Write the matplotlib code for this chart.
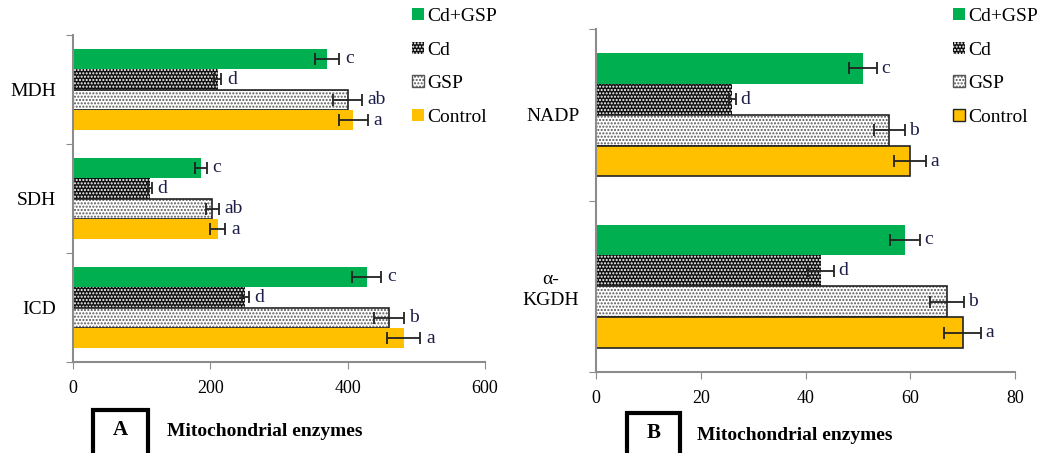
import numpy as np
import matplotlib.pyplot as plt
from matplotlib.patches import Patch, Rectangle

plt.rcParams['font.family'] = ['Liberation Serif', 'DejaVu Serif']
plt.rcParams['hatch.linewidth'] = 1.0

series = ['Cd+GSP', 'Cd', 'GSP', 'Control']

cats_a = ['ICD', 'SDH', 'MDH']
vals_a = {
    'Cd+GSP': [428, 186, 370],
    'Cd': [251, 112, 211],
    'GSP': [460, 203, 400],
    'Control': [482, 211, 408],
}
errs_a = {
    'Cd+GSP': [21, 9, 18],
    'Cd': [5, 3, 5],
    'GSP': [22, 10, 21],
    'Control': [24, 11, 21],
}
letters_a = {
    'Cd+GSP': ['c', 'c', 'c'],
    'Cd': ['d', 'd', 'd'],
    'GSP': ['b', 'ab', 'ab'],
    'Control': ['a', 'a', 'a'],
}

cats_b = ['\u03b1-\nKGDH', 'NADP']
vals_b = {
    'Cd+GSP': [59, 51],
    'Cd': [43, 26],
    'GSP': [67, 56],
    'Control': [70, 60],
}
errs_b = {
    'Cd+GSP': [2.9, 2.6],
    'Cd': [2.5, 0.7],
    'GSP': [3.3, 3.0],
    'Control': [3.6, 3.1],
}
letters_b = {
    'Cd+GSP': ['c', 'c'],
    'Cd': ['d', 'd'],
    'GSP': ['b', 'b'],
    'Control': ['a', 'a'],
}

GREEN = '#00b050'
GOLD = '#ffc000'
AXC = '#8c8c8c'
LETC = '#1c1c48'


def draw_panel(ax, cats, vals, errs, letters, xmax, xticks, h, ctrl_edge, off):
    n = len(cats)
    ypos = np.arange(n) + 0.5
    offsets = [1.5 * h, 0.5 * h, -0.5 * h, -1.5 * h]
    for s, o in zip(series, offsets):
        y = ypos + o
        v = vals[s]
        if s == 'Cd+GSP':
            ax.barh(y, v, height=h, color=GREEN, lw=0)
        elif s == 'Cd':
            ax.barh(y, v, height=h, color='#111111', hatch='.....', edgecolor='white', lw=0)
        elif s == 'GSP':
            ax.barh(y, v, height=h, color='white', hatch='.....', edgecolor='#555555', lw=0)
            ax.barh(y, v, height=h, fill=False, edgecolor='#222222', lw=1.2)
        else:
            ax.barh(y, v, height=h, color=GOLD, edgecolor='#222222' if ctrl_edge else GOLD,
                    lw=1.2 if ctrl_edge else 0)
        ax.errorbar(v, y, xerr=errs[s], fmt='none', ecolor='#222222', elinewidth=1.3,
                    capsize=4, capthick=1.3)
        for vi, ei, yi, lt in zip(v, errs[s], y, letters[s]):
            ax.text(vi + ei + off, yi, lt, va='center', ha='left', fontsize=14, color=LETC)
    ax.set_xlim(0, xmax)
    ax.set_ylim(0, n)
    ax.set_xticks(xticks)
    ax.set_yticks(np.arange(n + 1))
    ax.set_yticklabels([])
    ax.set_yticks(ypos, minor=True)
    ax.set_yticklabels(cats, minor=True, fontsize=14, linespacing=1.3)
    for t in ax.get_yticklabels(minor=True):
        t.set_multialignment('center')
    ax.tick_params(axis='y', which='minor', length=0, pad=12)
    ax.tick_params(axis='y', which='major', length=5, color=AXC)
    ax.tick_params(axis='x', length=5, color=AXC, labelsize=13, pad=8)
    for sp in ['top', 'right']:
        ax.spines[sp].set_visible(False)
    for sp in ['left', 'bottom']:
        ax.spines[sp].set_color(AXC)
        ax.spines[sp].set_linewidth(1.5)


W, H = 1037, 453
fig = plt.figure(figsize=(W / 100, H / 100), dpi=100)

ax_a = fig.add_axes([73 / W, (H - 362) / H, 412 / W, 327 / H])
draw_panel(ax_a, cats_a, vals_a, errs_a, letters_a, 600, [0, 200, 400, 600], 0.187, False, 8)

ax_b = fig.add_axes([596 / W, (H - 372) / H, 419 / W, 343 / H])
draw_panel(ax_b, cats_b, vals_b, errs_b, letters_b, 80, [0, 20, 40, 60, 80], 0.18, True, 0.8)


def legend_handles(ctrl_edge):
    return [
        Patch(facecolor=GREEN, lw=0, label='Cd+GSP'),
        Patch(facecolor='#111111', hatch='.....', edgecolor='white', lw=0, label='Cd'),
        Patch(facecolor='white', hatch='.....', edgecolor='#555555', lw=1, label='GSP'),
        Patch(facecolor=GOLD, edgecolor='#222222' if ctrl_edge else GOLD,
              lw=1 if ctrl_edge else 0, label='Control'),
    ]


for hx, ce in [(412, False), (953, True)]:
    fig.legend(handles=legend_handles(ce), loc='upper left', bbox_to_anchor=(hx / W, 1 - 8 / H),
               frameon=False, fontsize=14, handlelength=0.6, handleheight=0.6,
               handletextpad=0.2, labelspacing=0.85, borderpad=0, borderaxespad=0)

# panel captions
for bx, bw, by, lab, tx in [(93, 55, 410, 'A', 167), (627, 53, 413, 'B', 697)]:
    fig.patches.append(Rectangle((bx / W, (H - by - 60) / H), bw / W, 60 / H,
                                 transform=fig.transFigure, fill=False, lw=3, edgecolor='black'))
    fig.text((bx + bw / 2) / W, 1 - (by + 20) / H, lab, ha='center', va='center',
             fontsize=15, fontweight='bold')
    fig.text(tx / W, 1 - (by + 22) / H, 'Mitochondrial enzymes', ha='left', va='center',
             fontsize=14, fontweight='bold')

fig.savefig('out.png', dpi=100)
